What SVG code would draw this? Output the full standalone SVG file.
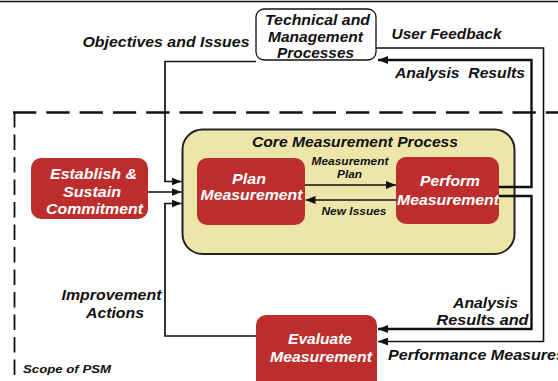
<svg xmlns="http://www.w3.org/2000/svg" width="558" height="381" viewBox="0 0 558 381">
<style>
text{font-family:"Liberation Sans",Arial,sans-serif;font-weight:bold;font-style:italic;}
.lbl{font-size:15px;fill:#111;}
.sm{font-size:11px;fill:#111;}
.wt{font-size:15px;fill:#fff;}
.red{fill:#BD2D2D;}
.ln{fill:none;stroke:#111;stroke-width:1.7;}
.thk{fill:none;stroke:#111;stroke-width:2.4;}
</style>
<defs>
<marker id="ah" markerUnits="userSpaceOnUse" markerWidth="10" markerHeight="8" refX="10" refY="4" orient="auto">
<path d="M0,0 L10,4 L0,8 z" fill="#111"/>
</marker>
</defs>
<rect width="558" height="381" fill="#fff"/>
<line x1="0" y1="1.5" x2="558" y2="1.5" stroke="#111" stroke-width="1.4"/>
<g id="scope">
<line x1="13" y1="112.5" x2="558" y2="112.5" stroke="#111" stroke-width="2.5" stroke-dasharray="23.3 10"/>
<line x1="14.5" y1="112" x2="14.5" y2="381" stroke="#111" stroke-width="1.8" stroke-dasharray="15.5 7"/>
<text class="sm" x="23" y="373" textLength="88" lengthAdjust="spacingAndGlyphs" style="font-size:11.5px">Scope of PSM</text>
</g>
<g id="core">
<rect x="182.5" y="129.5" width="332" height="124.5" rx="20" fill="#EDE6A8" stroke="#222" stroke-width="2"/>
<text class="lbl" x="252" y="147" textLength="206" lengthAdjust="spacingAndGlyphs">Core Measurement Process</text>
</g>
<g id="connectors">
<polyline class="ln" points="256,61.5 165,61.5 165,181.5 181.5,181.5" marker-end="url(#ah)"/>
<polyline class="ln" points="148,192 181.5,192" marker-end="url(#ah)"/>
<polyline class="ln" points="256,336 165,336 165,203.5 181.5,203.5" marker-end="url(#ah)"/>
<polyline class="ln" points="305,185 396,185" marker-end="url(#ah)"/>
<polyline class="ln" points="396,200 305.5,200" marker-end="url(#ah)"/>
<polyline class="thk" points="499,187 531.5,187 531.5,60 378,60" marker-end="url(#ah)"/>
<polyline class="thk" points="499,196 531.5,196 531.5,329 378,329" marker-end="url(#ah)"/>
<polyline class="ln" points="376,48 543.5,48 543.5,341.5 378,341.5" marker-end="url(#ah)" style="stroke-width:1.6"/>
<text class="lbl" x="82.5" y="47" textLength="167" lengthAdjust="spacingAndGlyphs">Objectives and Issues</text>
<text class="lbl" x="391.5" y="39" textLength="110" lengthAdjust="spacingAndGlyphs">User Feedback</text>
<text class="lbl" x="395" y="78" textLength="130" lengthAdjust="spacingAndGlyphs" xml:space="preserve">Analysis  Results</text>
<text class="sm" x="311.5" y="165" textLength="77" lengthAdjust="spacingAndGlyphs">Measurement</text>
<text class="sm" x="337" y="178" textLength="25" lengthAdjust="spacingAndGlyphs">Plan</text>
<text class="sm" x="321.5" y="215" textLength="65" lengthAdjust="spacingAndGlyphs">New Issues</text>
<text class="lbl" x="61.5" y="300" textLength="100" lengthAdjust="spacingAndGlyphs">Improvement</text>
<text class="lbl" x="86" y="318" textLength="58" lengthAdjust="spacingAndGlyphs">Actions</text>
<text class="lbl" x="453" y="308" textLength="65" lengthAdjust="spacingAndGlyphs">Analysis</text>
<text class="lbl" x="436.5" y="325" textLength="92" lengthAdjust="spacingAndGlyphs">Results and</text>
<text class="lbl" x="388" y="360" textLength="177" lengthAdjust="spacingAndGlyphs">Performance Measures</text>
</g>
<g id="tech">
<rect x="256" y="9" width="120" height="51" rx="8" fill="#fff" stroke="#111" stroke-width="1.3"/>
<text class="lbl" x="265" y="25" textLength="105" lengthAdjust="spacingAndGlyphs">Technical and</text>
<text class="lbl" x="268" y="41.5" textLength="95" lengthAdjust="spacingAndGlyphs">Management</text>
<text class="lbl" x="277" y="57.5" textLength="77" lengthAdjust="spacingAndGlyphs">Processes</text>
</g>
<g id="establish">
<rect class="red" x="31" y="158" width="117" height="61" rx="10"/>
<text class="wt" x="50" y="178.5" textLength="87" lengthAdjust="spacingAndGlyphs">Establish &amp;</text>
<text class="wt" x="63" y="196.5" textLength="58" lengthAdjust="spacingAndGlyphs">Sustain</text>
<text class="wt" x="46" y="214" textLength="97" lengthAdjust="spacingAndGlyphs">Commitment</text>
</g>
<g id="plan">
<rect class="red" x="197" y="158" width="108" height="67" rx="10"/>
<text class="wt" x="232" y="184" textLength="34" lengthAdjust="spacingAndGlyphs">Plan</text>
<text class="wt" x="200.5" y="200" textLength="102" lengthAdjust="spacingAndGlyphs">Measurement</text>
</g>
<g id="perform">
<rect class="red" x="396" y="157" width="103" height="67" rx="10"/>
<text class="wt" x="420" y="186" textLength="60" lengthAdjust="spacingAndGlyphs">Perform</text>
<text class="wt" x="397" y="205" textLength="102" lengthAdjust="spacingAndGlyphs">Measurement</text>
</g>
<g id="evaluate">
<rect class="red" x="256" y="315" width="121" height="80" rx="10"/>
<text class="wt" x="288" y="344" textLength="64" lengthAdjust="spacingAndGlyphs">Evaluate</text>
<text class="wt" x="270" y="361.5" textLength="102" lengthAdjust="spacingAndGlyphs">Measurement</text>
</g>
</svg>
